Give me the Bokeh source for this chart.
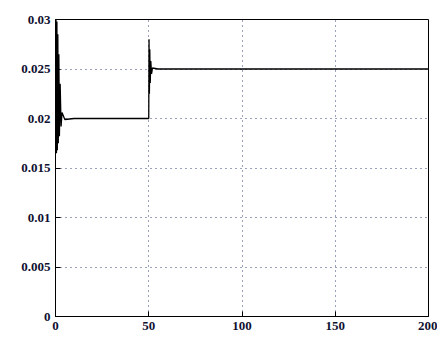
from bokeh.plotting import figure
from bokeh.models import FixedTicker, Range1d
from bokeh.embed import file_html
from bokeh.resources import INLINE

# response samples
t = [0, 0.25, 0.5, 0.75, 1.0, 1.25, 1.5, 1.8, 2.1, 2.5, 3.0, 3.5, 5, 10, 20, 30, 40, 50,
     50.15, 50.35, 50.55, 50.8, 51.1, 51.5, 52, 55, 60, 80, 100, 120, 150, 180, 200]
y = [0.020, 0.030, 0.0165, 0.0298, 0.0168, 0.0285, 0.0175, 0.0265, 0.0182, 0.0235, 0.0192, 0.0206, 0.0199, 0.0200, 0.0200, 0.0200, 0.0200, 0.0200,
     0.0280, 0.0225, 0.0270, 0.0236, 0.0258, 0.0245, 0.0251, 0.0250, 0.0250, 0.0250, 0.0250, 0.0250, 0.0250, 0.0250, 0.0250]

x_ticks = [0, 50, 100, 150, 200]
y_ticks = [0, 0.005, 0.01, 0.015, 0.02, 0.025, 0.03]
y_tick_labels = ["0", "0.005", "0.01", "0.015", "0.02", "0.025", "0.03"]

p = figure(width=437, height=340, output_backend="svg", toolbar_location=None,
           x_range=Range1d(0, 200), y_range=Range1d(0, 0.03),
           min_border_left=55, min_border_right=9, min_border_top=19, min_border_bottom=24)

p.line(t, y, line_color="black", line_width=1.3)

p.outline_line_color = "black"
p.outline_line_width = 1
p.background_fill_color = "white"
p.border_fill_color = "white"

for g, ticks in ((p.xgrid[0], x_ticks), (p.ygrid[0], y_ticks)):
    g.ticker = FixedTicker(ticks=ticks)
    g.grid_line_color = "#34447a"
    g.grid_line_dash = "1 4"
    g.grid_line_width = 1

for ax in (p.xaxis[0], p.yaxis[0]):
    ax.axis_line_color = "black"
    ax.major_tick_in = 5
    ax.major_tick_out = 0
    ax.minor_tick_in = 0
    ax.minor_tick_out = 0
    ax.major_tick_line_color = "black"
    ax.major_label_text_font = "Liberation Sans Narrow"
    ax.major_label_text_font_style = "bold"
    ax.major_label_text_font_size = "13px"
    ax.major_label_text_color = "#101030"

p.xaxis.ticker = FixedTicker(ticks=x_ticks)
p.yaxis.ticker = FixedTicker(ticks=y_ticks)
p.yaxis.major_label_overrides = {v: s for v, s in zip(y_ticks, y_tick_labels)}
p.xaxis.major_label_standoff = 5
p.yaxis.major_label_standoff = 5

open("out.html", "w").write(file_html(p, INLINE))
